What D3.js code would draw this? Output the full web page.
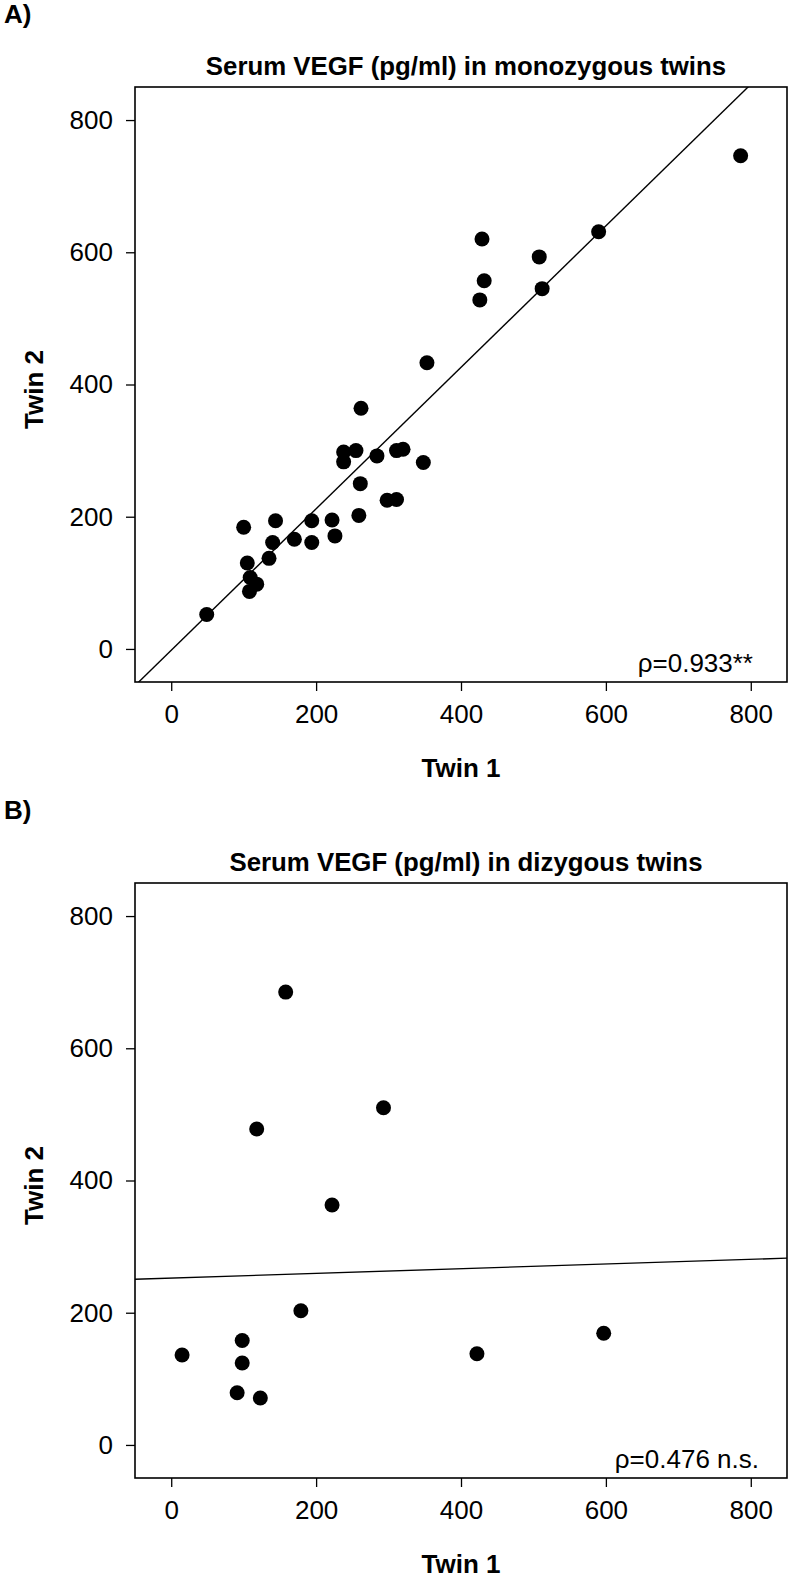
<!DOCTYPE html>
<html>
<head>
<meta charset="utf-8">
<script src="https://cdn.jsdelivr.net/npm/d3@7"></script>
<style>
  html, body { margin: 0; padding: 0; background: #fff; }
  svg { display: block; }
  text { font-family: "Liberation Sans", Arial, Helvetica, sans-serif; fill: #000; }
</style>
</head>
<body>
<svg id="chart" width="791" height="1575"></svg>
<script>
// ---- data ----
const xTicks = [0, 200, 400, 600, 800];
const yTicks = [0, 200, 400, 600, 800];

const twin1A = [49, 100, 105, 109, 118, 108, 135, 140, 144, 170, 194, 194, 222, 226, 259, 261, 298, 311,
                353, 262, 238, 255, 238, 284, 311, 320, 348, 786, 590, 429, 508, 432, 512, 426];
const twin2A = [52, 184, 130, 108, 98, 87, 137, 161, 194, 166, 194, 161, 195, 171, 202, 250, 225, 226,
                433, 364, 298, 300, 283, 292, 300, 302, 282, 746, 631, 620, 593, 557, 545, 528];

const twin1B = [158, 293, 118, 222, 179, 98, 15, 98, 91, 123, 422, 597];
const twin2B = [685, 510, 478, 363, 203, 158, 136, 124, 79, 71, 138, 169];

const fitA = { intercept: -2, slope: 1.07 };
const fitB = { intercept: 252.4, slope: 0.0355 };

const panels = [
  { label: "A)", title: "Serum VEGF (pg/ml) in monozygous twins", xs: twin1A, ys: twin2A, fit: fitA,
    rho: "\u03C1=0.933**", top: 87, bottom: 682, rhoX: 753 },
  { label: "B)", title: "Serum VEGF (pg/ml) in dizygous twins", xs: twin1B, ys: twin2B, fit: fitB,
    rho: "\u03C1=0.476 n.s.", top: 883, bottom: 1478, rhoX: 759 }
];

const svg = d3.select("#chart");
const left = 135, right = 787;
const domain = [-50, 850];

panels.forEach((p, i) => {
  const g = svg.append("g");
  const x = d3.scaleLinear().domain(domain).range([left, right]);
  const y = d3.scaleLinear().domain(domain).range([p.bottom, p.top]);

  const clipId = "clip" + i;
  g.append("clipPath").attr("id", clipId)
    .append("rect").attr("x", left).attr("y", p.top)
    .attr("width", right - left).attr("height", p.bottom - p.top);

  // panel label
  g.append("text").attr("x", 4).attr("y", p.top - 64)
    .attr("font-size", 26).attr("font-weight", "bold").text(p.label);

  // title
  g.append("text").attr("x", (left + right) / 2 + 5).attr("y", p.top - 12)
    .attr("text-anchor", "middle").attr("font-size", 25.8).attr("font-weight", "bold")
    .text(p.title);

  // axes
  const ax = g.append("g").attr("transform", `translate(0,${p.bottom})`)
    .call(d3.axisBottom(x).tickValues(xTicks).tickSize(9).tickPadding(14).tickFormat(d3.format("d")));
  const ay = g.append("g").attr("transform", `translate(${left},0)`)
    .call(d3.axisLeft(y).tickValues(yTicks).tickSize(9).tickPadding(13).tickFormat(d3.format("d")));
  [ax, ay].forEach(a => {
    a.select(".domain").remove();
    a.selectAll("line").attr("stroke", "#000").attr("stroke-width", 1.3);
    a.selectAll("text").attr("font-size", 26).attr("fill", "#000")
      .attr("font-family", "'Liberation Sans', Arial, sans-serif");
  });

  // axis titles
  g.append("text").attr("x", (left + right) / 2).attr("y", p.bottom + 95)
    .attr("text-anchor", "middle").attr("font-size", 26).attr("font-weight", "bold").text("Twin 1");
  g.append("text").attr("transform", `translate(43,${(p.top + p.bottom) / 2 + 5}) rotate(-90)`)
    .attr("text-anchor", "middle").attr("font-size", 26).attr("font-weight", "bold").text("Twin 2");

  // fit line
  g.append("line").attr("clip-path", `url(#${clipId})`)
    .attr("x1", x(domain[0])).attr("y1", y(p.fit.intercept + p.fit.slope * domain[0]))
    .attr("x2", x(domain[1])).attr("y2", y(p.fit.intercept + p.fit.slope * domain[1]))
    .attr("stroke", "#000").attr("stroke-width", 1.4);

  // points
  g.append("g").selectAll("circle").data(p.xs.map((v, k) => [v, p.ys[k]])).join("circle")
    .attr("cx", d => x(d[0])).attr("cy", d => y(d[1])).attr("r", 7.5).attr("fill", "#000");

  // rho text
  g.append("text").attr("x", p.rhoX).attr("y", p.bottom - 10)
    .attr("text-anchor", "end").attr("font-size", 26).text(p.rho);

  // box
  g.append("rect").attr("x", left).attr("y", p.top)
    .attr("width", right - left).attr("height", p.bottom - p.top)
    .attr("fill", "none").attr("stroke", "#000").attr("stroke-width", 1.6);
});
</script>
</body>
</html>
